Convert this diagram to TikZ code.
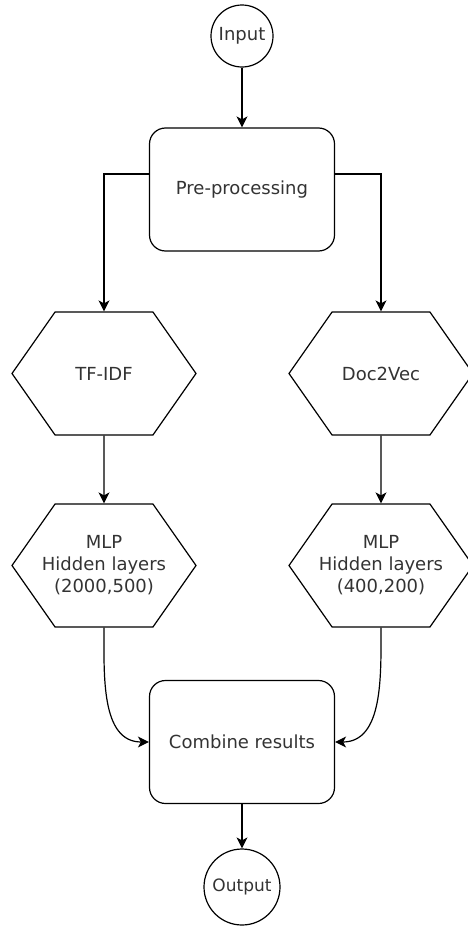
\documentclass[tikz,border=0pt]{standalone}
\usepackage{fontspec}
\setmainfont{DejaVu Sans}
\usetikzlibrary{shapes.symbols,arrows.meta}
\definecolor{txtgray}{HTML}{333333}

\begin{document}
\begin{tikzpicture}[x=1pt,y=-1pt,
  every node/.style={font=\fontsize{18}{22}\selectfont,text=txtgray,align=center},
  term/.style={draw,circle,line width=1.2pt,inner sep=0pt},
  proc/.style={draw,rectangle,rounded corners=16pt,line width=1.2pt,minimum width=185pt,minimum height=123pt},
  hexa/.style={draw,signal,signal to=east and west,signal pointer angle=110,line width=1.2pt,minimum width=184pt,minimum height=123pt,inner sep=0pt},
  flow/.style={-{Stealth[length=11pt,width=11pt,inset=3pt]},line width=1.2pt}]
\useasboundingbox (0,0) rectangle (467,926);
\node[term,minimum size=62pt] (in) at (242,36) {Input};
\node[proc] (pre) at (242,189.5) {Pre-processing};
\node[hexa] (tfidf) at (104,373.5) {TF-IDF};
\node[hexa] (d2v) at (381,373.5) {Doc2Vec};
\node[hexa,inner xsep=-30pt] (mlpa) at (104,565.5) {MLP\\Hidden layers\\(2000,500)};
\node[hexa,inner xsep=-30pt] (mlpb) at (381,565.5) {MLP\\Hidden layers\\(400,200)};
\node[proc] (comb) at (242,742) {Combine results};
\node[term,minimum size=76pt,font=\fontsize{17}{20}\selectfont] (out) at (242,887) {Output};
\draw[flow] (in) -- (pre);
\draw[flow] ([yshift=15.5pt]pre.west) -| (tfidf);
\draw[flow] ([yshift=15.5pt]pre.east) -| (d2v);
\draw[flow] (tfidf) -- (mlpa);
\draw[flow] (d2v) -- (mlpb);
\draw[flow] (mlpa.south) to[out=-90,in=180] (comb.west);
\draw[flow] (mlpb.south) to[out=-90,in=0] (comb.east);
\draw[flow] (comb) -- (out);
\end{tikzpicture}
\end{document}
